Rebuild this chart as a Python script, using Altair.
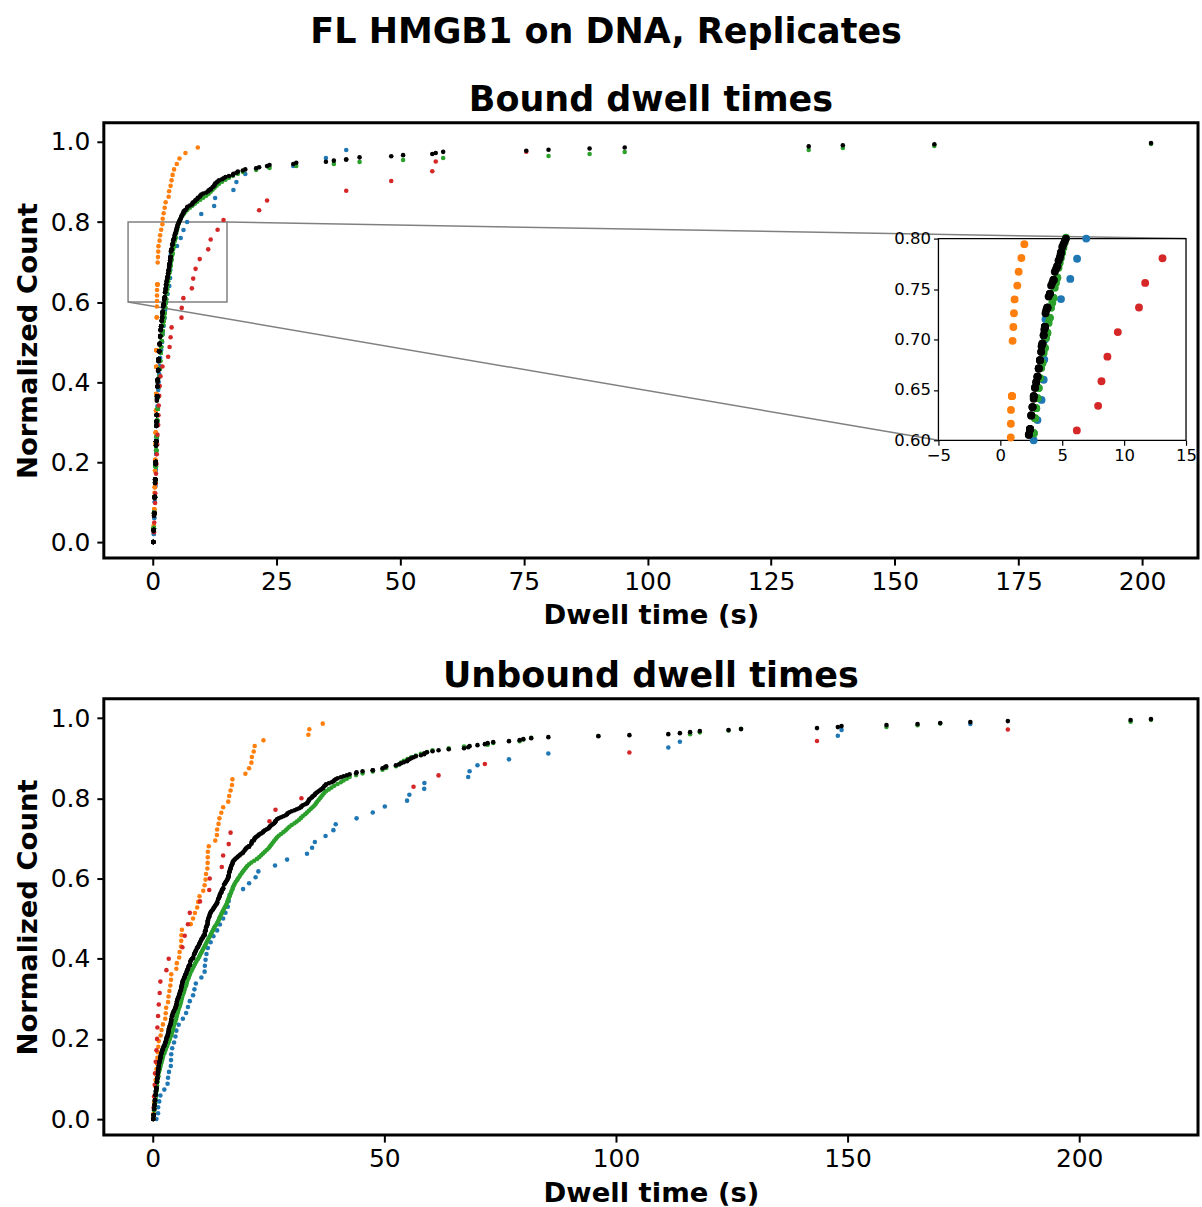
import altair as alt
import pandas as pd

FONT = "DejaVu Sans"
SERIES = ["Replicate 1", "Replicate 2", "Replicate 3", "Replicate 4", "All"]
COLORS = ["#1f77b4", "#ff7f0e", "#2ca02c", "#d62728", "#000000"]

# ---------------- Bound dwell times (s) per replicate ----------------
bound_rep1 = [0.1, 0.2, 0.2, 0.3, 0.3, 0.4, 0.4, 0.5, 0.5, 0.6, 0.6, 0.7, 0.7, 0.8, 0.8,
              0.9, 0.9, 1.0, 1.0, 1.1, 1.2, 1.3, 1.4, 1.5, 1.7, 1.9, 2.0, 2.2, 2.4, 2.5,
              2.69, 3.0, 3.33, 3.5, 3.55, 3.6, 3.65, 4.9, 5.65, 6.2,
              6.94, 9.8, 12.4, 12.6, 16.3, 16.9, 18.7, 28.4, 35.0, 39.1]
bound_rep2 = [0.1, 0.1, 0.15, 0.2, 0.2, 0.25, 0.3, 0.3, 0.3, 0.35, 0.4, 0.4, 0.4, 0.45, 0.45,
              0.5, 0.5, 0.5, 0.55, 0.55, 0.6, 0.6, 0.6, 0.6, 0.65, 0.65, 0.65, 0.7, 0.7, 0.7,
              0.7, 0.7, 0.72, 0.72, 0.72, 0.75, 0.75, 0.75, 0.75, 0.75, 0.75,
              0.8, 0.8, 0.82, 0.84, 0.85, 0.86, 0.94, 0.94, 0.94, 0.94,
              0.99, 1.05, 1.10, 1.15, 1.37, 1.48, 1.7, 1.94, 2.0, 2.2, 2.4, 2.6, 3.2, 3.3,
              3.6, 3.8, 4.0, 4.3, 4.85, 5.4, 6.6, 9.1]
bound_rep3 = [0.1, 0.1, 0.1, 0.1, 0.1, 0.1, 0.1, 0.2, 0.2, 0.2, 0.2, 0.2, 0.2, 0.2, 0.2, 0.3, 0.3, 0.3, 0.3, 0.3,
              0.3, 0.3, 0.3, 0.4, 0.4, 0.4, 0.4, 0.4, 0.4, 0.4, 0.5, 0.5, 0.5, 0.5, 0.5, 0.5, 0.5, 0.5, 0.6, 0.6,
              0.6, 0.6, 0.6, 0.6, 0.6, 0.6, 0.7, 0.7, 0.7, 0.7, 0.7, 0.7, 0.7, 0.8, 0.8, 0.8, 0.8, 0.8, 0.8, 0.8,
              0.8, 0.9, 0.9, 0.9, 0.9, 0.9, 0.9, 1.0, 1.0, 1.0, 1.0, 1.0, 1.0, 1.1, 1.1, 1.1, 1.1, 1.1, 1.2, 1.2,
              1.2, 1.2, 1.2, 1.3, 1.3, 1.3, 1.3, 1.4, 1.4, 1.4, 1.4, 1.5, 1.5, 1.5, 1.5, 1.6, 1.6, 1.6, 1.7, 1.7,
              1.7, 1.8, 1.8, 1.8, 1.9, 1.9, 2.0, 2.0, 2.0, 2.1, 2.1, 2.2, 2.2, 2.3, 2.3, 2.4, 2.4, 2.4, 2.5, 2.5,
              2.6, 2.6, 2.7, 2.7, 2.7, 2.8, 2.8, 2.9, 2.9, 3.0, 3.0, 3.1, 3.1, 3.2, 3.2, 3.3, 3.4, 3.4, 3.5, 3.6,
              3.6, 3.7, 3.8, 3.8, 3.9, 4.0, 4.0, 4.1, 4.2, 4.3, 4.3, 4.4, 4.5, 4.6, 4.6, 4.7, 4.8, 4.9, 5.0, 5.1,
              5.2, 5.3, 5.5, 5.7, 6.0, 6.3, 6.6, 7.0, 7.5, 8.0, 8.5, 9.0, 9.6, 10.2, 10.8, 11.3, 11.7, 12.1, 12.5, 12.9,
              13.4, 14.0, 14.7, 15.4, 16.2, 17.2, 18.2,
              20.9, 23.6, 29.0, 36.6, 41.8, 50.6, 58.7, 80.0, 88.3, 95.4, 132.6, 139.5, 158.0, 201.8]
bound_rep4 = [0.2, 0.25, 0.3, 0.4, 0.47, 0.5, 0.6, 0.65, 0.74, 0.8, 0.9, 0.95, 1.1, 1.15, 1.2,
              1.3, 1.4, 1.55, 1.95, 3.1, 3.4, 3.6, 3.8, 5.8, 5.85, 6.18, 7.9, 8.17, 8.65, 9.49,
              11.2, 11.7, 13.1, 14.3, 21.5, 23.1, 39.1, 48.2, 56.5, 57.2, 75.5]

# ---------------- Unbound dwell times (s) per replicate ----------------
unbound_rep1 = [0.8, 1.15, 1.16, 1.4, 1.65, 2.5, 3.2, 3.3, 3.5, 3.9, 3.95, 4.0, 4.2, 4.6, 4.9,
                5.1, 5.6, 6.5, 7.2, 7.6, 8.0, 8.7, 9.0, 9.3, 10.5, 11.2, 11.25, 11.4, 11.6, 11.9,
                12.5, 13.1, 13.9, 14.5, 15.2, 15.7, 16.2, 16.4, 16.6, 19.5, 20.8, 22.2, 22.8, 26.4,
                29.0, 33.3, 34.4, 35.0, 37.3, 39.0, 39.5, 44.0, 47.5, 50.1, 54.9, 55.4, 58.6, 58.65,
                68.1, 68.4, 70.1, 76.9, 85.4, 111.3, 113.8, 147.9, 148.7, 176.5]
unbound_rep2 = [0.1, 0.2, 0.2, 0.3, 0.4, 0.4, 0.5, 0.6, 0.7, 0.8, 0.9, 1.0, 1.1, 1.2, 1.3,
                1.7, 1.9, 2.2, 2.7, 2.8, 2.9, 3.3, 3.4, 3.6, 3.8, 3.95, 4.0, 5.1, 5.2, 5.7,
                5.8, 6.1, 6.15, 6.2, 6.3, 8.2, 8.7, 9.1, 9.6, 9.8, 10.1, 10.9, 11.2, 11.4, 11.5,
                11.8, 11.85, 11.88, 11.9, 12.1, 13.5, 13.85, 13.9, 14.2, 14.4, 14.8, 15.2, 16.3, 16.5,
                16.8, 17.1, 17.2, 20.0, 20.8, 21.3, 21.4, 21.8, 22.0, 23.9, 33.6, 33.8, 36.7]
unbound_rep3 = [0.1, 0.1, 0.2, 0.2, 0.2, 0.3, 0.3, 0.4, 0.4,
                0.5, 0.5, 0.5, 0.6, 0.6, 0.7, 0.7, 0.8, 0.8,
                0.8, 0.9, 0.9, 1.0, 1.0, 1.1, 1.2, 1.2, 1.3, 1.4, 1.5,
                1.6, 1.7, 1.8, 1.9, 2.0, 2.1, 2.2, 2.3, 2.5, 2.6,
                2.8, 2.9, 3.1, 3.2, 3.4, 3.5, 3.7, 3.8, 4.0,
                4.1, 4.2, 4.3, 4.4, 4.5, 4.6, 4.8, 4.9, 5.0,
                5.1, 5.2, 5.3, 5.4, 5.5, 5.6, 5.8, 5.9, 6.0, 6.1,
                6.2, 6.3, 6.4, 6.5, 6.7, 6.8, 6.9, 7.0, 7.2,
                7.3, 7.4, 7.5, 7.7, 7.8, 8.0, 8.1, 8.3, 8.5, 8.7,
                8.9, 9.1, 9.3, 9.5, 9.8, 10.0, 10.2, 10.4, 10.6,
                10.8, 11.0, 11.2, 11.4, 11.6, 11.8, 12.0, 12.2, 12.4,
                12.6, 12.8, 13.0, 13.2, 13.4, 13.7, 13.9, 14.1, 14.3,
                14.4, 14.6, 14.8, 15.0, 15.2, 15.4, 15.6, 15.8, 16.0,
                16.1, 16.3, 16.4, 16.6, 16.7, 16.9, 17.0, 17.2, 17.3,
                17.5, 17.7, 17.9, 18.2, 18.4, 18.7, 18.9, 19.2, 19.5,
                19.8, 20.1, 20.4, 20.8, 21.3, 21.9, 22.5, 23.0,
                23.4, 23.8, 24.2, 24.6, 25.0, 25.3, 25.6, 25.9, 26.2, 26.5, 26.8,
                27.2, 27.7, 28.2, 28.7, 29.1, 29.5,
                30.0, 30.6, 31.1, 31.6, 32.0, 32.4,
                32.9, 33.3, 33.7, 34.1, 34.5,
                34.9, 35.2, 35.5, 35.8, 36.1, 36.4, 36.7, 37.0, 37.4,
                38.0, 38.6, 39.2,
                39.9, 40.6, 41.2, 41.9, 42.5,
                43.9, 45.3,
                47.5, 49.6,
                50.4, 52.5, 53.2,
                53.6, 54.2, 55.0, 55.8, 56.8, 57.9, 59.2,
                60.4, 63.9, 67.2, 72.3, 73.5, 79.2, 80.0, 81.7, 96.2, 116.0, 118.1, 124.3,
                127.0, 158.4, 165.1, 170.0, 211.1, 215.5]
unbound_rep4 = [0.1, 0.2, 0.3, 0.43, 0.5, 0.65, 0.8, 0.93, 1.0, 1.15, 1.3, 1.5, 1.65, 2.95, 3.45,
                6.4, 6.9, 7.6, 8.0, 10.2, 12.2, 12.3, 14.9, 15.2, 16.4, 16.8, 25.2, 26.5, 32.1,
                56.3, 61.7, 71.7, 102.9, 143.4, 184.6]

# ---------------- axes / ticks ----------------
BOUND_X_DOMAIN = [-9.9, 211.3]
UNBOUND_X_DOMAIN = [-10.56, 225.65]
Y_DOMAIN = [-0.04, 1.048]
BOUND_X_TICKS = [0, 25, 50, 75, 100, 125, 150, 175, 200]
UNBOUND_X_TICKS = [0, 50, 100, 150, 200]
Y_TICKS = [0.0, 0.2, 0.4, 0.6, 0.8, 1.0]
INSET_X = [-5, 15]
INSET_Y = [0.6, 0.8]
INSET_X_TICKS = [-5, 0, 5, 10, 15]
INSET_Y_TICKS = [0.6, 0.65, 0.7, 0.75, 0.8]

# layout (pixels, inside the top plot area)
W, H = 1096, 436
IN_L, IN_R, IN_T, IN_B = 836, 1084, 116, 318


def build_df(reps):
    rows = []
    for k, vals in enumerate(reps):
        rows += [{"series": SERIES[k], "t": v, "z": k} for v in vals]
    for vals in reps:
        rows += [{"series": SERIES[4], "t": v, "z": 4} for v in vals]
    return pd.DataFrame(rows)


def ecdf(df):
    return (alt.Chart(df)
            .transform_window(rk="rank()", sort=[alt.SortField("t", order="ascending")],
                              groupby=["series"])
            .transform_joinaggregate(n="count()", groupby=["series"])
            .transform_calculate(frac="(datum.rk - 1) / datum.n"))


color = alt.Color("series:N", scale=alt.Scale(domain=SERIES, range=COLORS), legend=None)
order = alt.Order("z:Q")


def x_enc(domain, ticks):
    return alt.X("t:Q", scale=alt.Scale(domain=domain, nice=False, zero=False),
                 axis=alt.Axis(values=ticks, format="d", title="Dwell time (s)"))


def y_enc():
    return alt.Y("frac:Q", scale=alt.Scale(domain=Y_DOMAIN, nice=False, zero=False),
                 axis=alt.Axis(values=Y_TICKS, format=".1f", title="Normalized Count"))


df_b = build_df([bound_rep1, bound_rep2, bound_rep3, bound_rep4])
df_u = build_df([unbound_rep1, unbound_rep2, unbound_rep3, unbound_rep4])

# ---- top panel ----
pts_b = ecdf(df_b).mark_circle(size=21, opacity=1).encode(
    x=x_enc(BOUND_X_DOMAIN, BOUND_X_TICKS), y=y_enc(), color=color, order=order)

box_df = pd.DataFrame({"t": [INSET_X[0]], "t2": [INSET_X[1]],
                       "frac": [INSET_Y[0]], "frac2": [INSET_Y[1]]})
zoom_box = alt.Chart(box_df).mark_rect(fillOpacity=0, stroke="#808080", strokeWidth=1.5).encode(
    x=x_enc(BOUND_X_DOMAIN, BOUND_X_TICKS), x2="t2:Q", y=y_enc(), y2="frac2:Q")

c_top = alt.Chart(pd.DataFrame({"t": [INSET_X[1]], "frac": [INSET_Y[1]]})).mark_rule(
    color="#808080", strokeWidth=1.5).encode(
    x=x_enc(BOUND_X_DOMAIN, BOUND_X_TICKS), y=y_enc(),
    x2=alt.value(IN_R), y2=alt.value(IN_T))
c_bot = alt.Chart(pd.DataFrame({"t": [INSET_X[0]], "frac": [INSET_Y[0]]})).mark_rule(
    color="#808080", strokeWidth=1.5).encode(
    x=x_enc(BOUND_X_DOMAIN, BOUND_X_TICKS), y=y_enc(),
    x2=alt.value(IN_L), y2=alt.value(IN_B))

inset_frame = alt.Chart(pd.DataFrame({"k": [0]})).mark_rect(
    fillOpacity=0, stroke="black", strokeWidth=1.3).encode(
    x=alt.value(IN_L), x2=alt.value(IN_R), y=alt.value(IN_T), y2=alt.value(IN_B))

inset_pts = ecdf(df_b).transform_filter(
    "datum.t >= -5 && datum.t <= 15 && datum.frac >= 0.599 && datum.frac <= 0.801"
).mark_circle(size=62, opacity=1).encode(
    x=alt.X("t:Q", scale=alt.Scale(domain=INSET_X, range=[IN_L, IN_R], nice=False, zero=False),
            axis=alt.Axis(orient="bottom", offset=-(H - IN_B), values=INSET_X_TICKS, format="d",
                          title=None, labelFontSize=16.5, tickSize=5, tickWidth=1.2,
                          labelPadding=2, labelFlush=False, zindex=1)),
    y=alt.Y("frac:Q", scale=alt.Scale(domain=INSET_Y, range=[IN_B, IN_T], nice=False, zero=False),
            axis=alt.Axis(orient="left", offset=-IN_L, values=INSET_Y_TICKS, format=".2f",
                          title=None, labelFontSize=16.5, tickSize=5, tickWidth=1.2,
                          labelPadding=3, zindex=1)),
    color=color, order=order)

top = alt.layer(
    alt.layer(zoom_box, c_top, c_bot, pts_b),
    alt.layer(inset_frame, inset_pts),
).resolve_scale(x="independent", y="independent").properties(
    width=W, height=H, title="Bound dwell times")

# ---- bottom panel ----
bottom = ecdf(df_u).mark_circle(size=21, opacity=1).encode(
    x=x_enc(UNBOUND_X_DOMAIN, UNBOUND_X_TICKS), y=y_enc(), color=color, order=order
).properties(width=W, height=H + 1, title="Unbound dwell times")

chart = alt.vconcat(top, bottom, spacing=26).properties(
    title=alt.TitleParams("FL HMGB1 on DNA, Replicates", fontSize=35, font=FONT,
                          fontWeight="bold", anchor="middle", offset=31, color="black"),
    padding={"left": 12, "top": 14, "right": 2, "bottom": 2},
).configure_view(stroke="black", strokeWidth=3).configure_axis(
    grid=False, domain=False, labelFont=FONT, titleFont=FONT, labelFontSize=25,
    titleFontSize=27.5, titleFontWeight="bold", labelColor="black", titleColor="black",
    tickColor="black", tickWidth=2, tickSize=7, labelPadding=4, titlePadding=8,
    labelFlush=False, labelOverlap=False,
).configure_axisY(labelPadding=7, titlePadding=8).configure_title(
    font=FONT, fontSize=35, fontWeight="bold", color="black", offset=5)

chart.save("out.html", embed_options={"renderer": "svg", "actions": False})
